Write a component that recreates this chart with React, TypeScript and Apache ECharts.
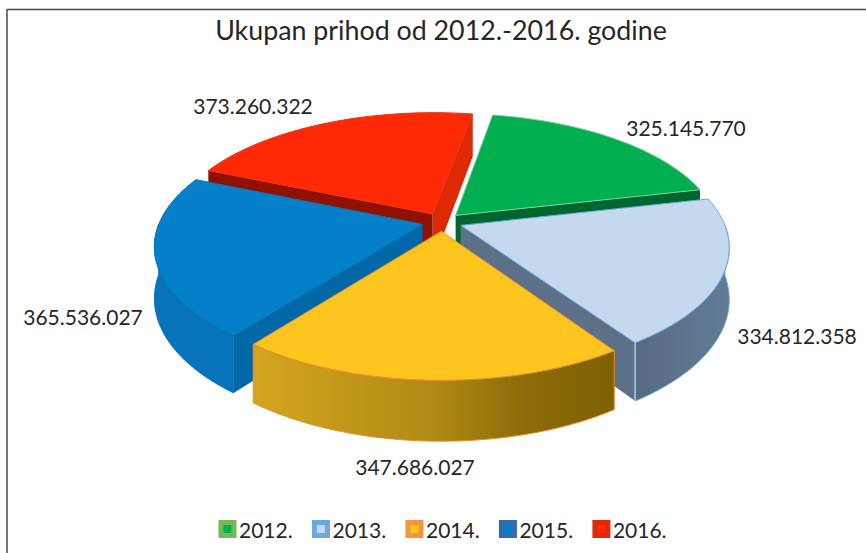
import React, { useEffect, useRef } from "react";
import * as echarts from "echarts";

const TITLE = "Ukupan prihod od 2012.-2016. godine";
const YEARS = ["2012.", "2013.", "2014.", "2015.", "2016."];
const VALUES = [325145770, 334812358, 347686027, 365536027, 373260322];
const VALUE_LABELS = ["325.145.770", "334.812.358", "347.686.027", "365.536.027", "373.260.322"];

const TOP_COLORS = ["#00b050", "#c5d9ee", "#ffc51f", "#0380c8", "#ff2a05"];
const LEGEND_EDGE = ["#75b85c", "#6aaade", "#f79440", "#2f6db0", "#dc2b08"];
const EDGE_COLORS = ["#7fce9c", "#6fa8d8", "#ef8a30", "#0478be", "#f03010"];
const WALL_COLORS = ["#00662f", "#5c7088", "#8a6a08", "#0068a6", "#8f1200"];
const LABEL_POS = [[686, 127], [797, 335], [415, 466], [83, 316], [253, 105]];
const DRAW_ORDER = [4, 0, 3, 1, 2];

const FONT = "Lato, 'Open Sans', sans-serif";
const CX = 442, CY = 222, R = 263, K = 0.459, A = 1 / 6, H = 50, EXPLODE = 20, START_DEG = 10;

const total = VALUES.reduce((a, b) => a + b, 0);
const rad = (d: number) => (d * Math.PI) / 180;

function project(x: number, y: number, z: number) {
  const p = 1 / (1 - (A * y) / R);
  return [CX + x * p, CY + K * y * p + z * p];
}

function range(from: number, to: number) {
  const out: number[] = [];
  const n = Math.max(2, Math.ceil(Math.abs(to - from) / 2));
  for (let i = 0; i <= n; i++) out.push(from + ((to - from) * i) / n);
  return out;
}

function buildSlice(index: number, value: number) {
  const before = VALUES.slice(0, index).reduce((a, b) => a + b, 0);
  const t0 = START_DEG + (before / total) * 360;
  const t1 = t0 + (value / total) * 360;
  const mid = rad((t0 + t1) / 2);
  const ax = EXPLODE * Math.sin(mid);
  const ay = -EXPLODE * Math.cos(mid);
  const rim = (t: number, z: number) =>
    project(ax + R * Math.sin(rad(t)), ay - R * Math.cos(rad(t)), z);
  const apex = (z: number) => project(ax, ay, z);
  const children: any[] = [];
  const wall = (t: number) => {
    children.push({
      type: "polygon",
      shape: { points: [apex(0), rim(t, 0), rim(t, H), apex(H)] },
      style: { fill: index === 4 && t % 360 < 90 ? "#dd2a05" : WALL_COLORS[index] },
    });
  };
  if (Math.sin(rad(t1)) > 0) wall(t1);
  if (Math.sin(rad(t0)) < 0) wall(t0);

  const a = Math.max(t0, 90), b = Math.min(t1, 270);
  if (b > a) {
    const arc = range(a, b);
    const pts = arc.map((t) => rim(t, 0)).concat(arc.slice().reverse().map((t) => rim(t, H)));
    let fill: any = WALL_COLORS[index];
    if (index === 2) {
      fill = new echarts.graphic.LinearGradient(1, 0, 0, 0, [
        { offset: 0, color: "#7f6104" },
        { offset: 0.25, color: "#8c6c08" },
        { offset: 0.5, color: "#b08a14" },
        { offset: 1, color: "#d2a61f" },
      ]);
    } else if (index === 1) {
      fill = new echarts.graphic.LinearGradient(0, 0, 1, 0, [
        { offset: 0, color: "#566a80" },
        { offset: 1, color: "#627c96" },
      ]);
    } else if (index === 3) {
      fill = "#0673ba";
    }
    children.push({ type: "polygon", shape: { points: pts }, style: { fill, stroke: EDGE_COLORS[index], lineWidth: 1 } });
    if (index === 1) {
      children.push({ type: "line", shape: { x1: rim(t1, 0)[0], y1: rim(t1, 0)[1], x2: rim(t1, H)[0], y2: rim(t1, H)[1] }, style: { stroke: "#a4c6e6", lineWidth: 1.5 } });
    }
  }
  const top = [apex(0)].concat(range(t0, t1).map((t) => rim(t, 0)));
  children.push({ type: "polygon", shape: { points: top }, style: { fill: TOP_COLORS[index], stroke: EDGE_COLORS[index], lineWidth: 1 } });
  children.push({
    type: "text",
    x: LABEL_POS[index][0],
    y: LABEL_POS[index][1],
    style: { text: VALUE_LABELS[index], fill: "#262626", font: `21px ${FONT}`, align: "center", verticalAlign: "middle" },
    z2: 10,
  });
  return { type: "group", children };
}

export default function App() {
  const ref = useRef<HTMLDivElement>(null);
  useEffect(() => {
    const chart = echarts.init(ref.current!, null, { renderer: "svg" });
    chart.setOption({
      animation: false,
      backgroundColor: "#ffffff",
      title: {
        text: TITLE,
        left: 436,
        top: 11,
        textAlign: "center",
        textStyle: { fontFamily: FONT, fontSize: 26.8, fontWeight: "normal", color: "#262626" },
      },
      legend: {
        left: 218.5,
        top: 518.5,
        padding: 0,
        itemWidth: 13,
        itemHeight: 13,
        itemGap: 19.3,
        selectedMode: false,
        icon: "rect",
        textStyle: { fontFamily: FONT, fontSize: 21, color: "#262626" },
        data: YEARS.map((name, i) => ({
          name,
          itemStyle: { color: TOP_COLORS[i], borderColor: LEGEND_EDGE[i], borderWidth: 5 },
        })),
      },
      graphic: [
        { type: "line", shape: { x1: 7, y1: 9.5, x2: 866, y2: 9.5 }, style: { stroke: "#4a4a4a", lineWidth: 1.5 } },
        { type: "line", shape: { x1: 7, y1: 9, x2: 7, y2: 553 }, style: { stroke: "#4a4a4a", lineWidth: 1.5 } },
      ],
      series: YEARS.map((name, i) => ({
        type: "custom",
        name,
        coordinateSystem: "none",
        z: 2 + DRAW_ORDER.indexOf(i),
        itemStyle: { color: TOP_COLORS[i] },
        data: [[VALUES[i]]],
        renderItem: (_p: any, api: any) => buildSlice(i, api.value(0)),
      })),
    });
    return () => chart.dispose();
  }, []);
  return <div ref={ref} style={{ position: "fixed", left: 0, top: 0, width: 866, height: 553 }} />;
}
